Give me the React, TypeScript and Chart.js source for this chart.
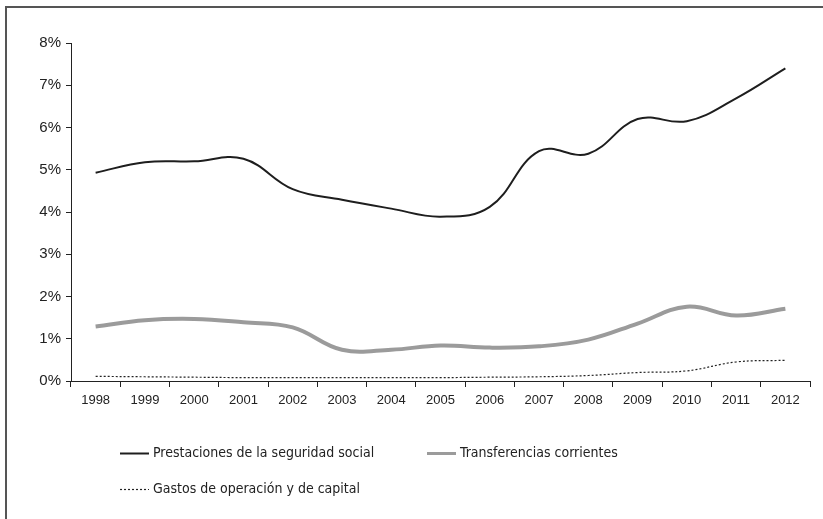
import React, { useEffect, useRef } from "react";
import { Chart, registerables } from "chart.js";

Chart.register(...registerables);

const years = ["1998","1999","2000","2001","2002","2003","2004","2005","2006","2007","2008","2009","2010","2011","2012"];
const prestaciones = [4.93, 5.18, 5.2, 5.26, 4.54, 4.29, 4.08, 3.89, 4.12, 5.44, 5.38, 6.2, 6.15, 6.69, 7.4];
const transferencias = [1.29, 1.44, 1.47, 1.39, 1.27, 0.74, 0.74, 0.84, 0.79, 0.82, 0.98, 1.36, 1.76, 1.55, 1.71];
const gastos = [0.11, 0.1, 0.09, 0.08, 0.08, 0.08, 0.08, 0.08, 0.09, 0.1, 0.13, 0.2, 0.24, 0.45, 0.49];
const seriesNames = ["Prestaciones de la seguridad social", "Transferencias corrientes", "Gastos de operación y de capital"];
const yTicks = [0, 1, 2, 3, 4, 5, 6, 7, 8];

const legendFont = "14px 'Liberation Sans Narrow', 'DejaVu Sans Condensed', sans-serif";

const legendPlugin = {
  id: "customLegend",
  afterDraw(chart: any) {
    const ctx = chart.ctx;
    const items = [
      { x: 120, y: 453, ds: 0, w: 2 },
      { x: 427, y: 453, ds: 1, w: 3 },
      { x: 120, y: 489, ds: 2, w: 1.2 },
    ];
    ctx.save();
    items.forEach((it) => {
      const ds = chart.data.datasets[it.ds];
      ctx.beginPath();
      ctx.strokeStyle = ds.borderColor;
      ctx.lineWidth = it.w;
      ctx.setLineDash(ds.borderDash || []);
      ctx.moveTo(it.x, it.y + 0.5);
      ctx.lineTo(it.x + 29, it.y + 0.5);
      ctx.stroke();
      ctx.setLineDash([]);
      ctx.fillStyle = "#222";
      ctx.font = legendFont;
      ctx.textBaseline = "middle";
      ctx.textAlign = "left";
      ctx.fillText(ds.label, it.x + 33, it.y);
    });
    ctx.restore();
  },
};

export default function App() {
  const ref = useRef<HTMLCanvasElement | null>(null);
  useEffect(() => {
    document.body.style.margin = "0";
    const canvas = ref.current!;
    const chart = new Chart(canvas, {
      type: "line",
      data: {
        labels: years,
        datasets: [
          {
            label: seriesNames[0],
            data: prestaciones,
            borderColor: "#1e1e1e",
            borderWidth: 2,
            pointRadius: 0,
            tension: 0.4,
            fill: false,
          },
          {
            label: seriesNames[1],
            data: transferencias,
            borderColor: "#9b9b9b",
            borderWidth: 4,
            pointRadius: 0,
            tension: 0.4,
            fill: false,
          },
          {
            label: seriesNames[2],
            data: gastos,
            borderColor: "#222",
            borderWidth: 1.2,
            borderDash: [2, 2],
            pointRadius: 0,
            tension: 0.4,
            fill: false,
          },
        ],
      },
      options: {
        animation: false,
        responsive: false,
        maintainAspectRatio: false,
        layout: { padding: { left: 0, right: 13, top: 43, bottom: 108 } },
        plugins: { legend: { display: false }, tooltip: { enabled: false } },
        scales: {
          x: {
            type: "category",
            offset: true,
            grid: {
              display: true,
              drawOnChartArea: false,
              drawTicks: true,
              tickLength: 6,
              offset: true,
              color: "#222",
              lineWidth: 1,
            },
            border: { display: true, color: "#222", width: 1 },
            ticks: {
              color: "#222",
              font: { family: "'Liberation Sans', sans-serif", size: 13 },
              padding: 6,
              maxRotation: 0,
              autoSkip: false,
            },
            afterFit: (s: any) => {
              s.height = 30;
            },
          },
          y: {
            min: 0,
            max: 8,
            grid: {
              display: true,
              drawOnChartArea: false,
              drawTicks: true,
              tickLength: 5,
              color: "#222",
              lineWidth: 1,
            },
            border: { display: true, color: "#222", width: 1 },
            afterBuildTicks: (s: any) => {
              s.ticks = yTicks.map((v) => ({ value: v }));
            },
            ticks: {
              color: "#222",
              font: { family: "'Liberation Sans', sans-serif", size: 15 },
              padding: 5,
              callback: (v: any) => v + "%",
            },
            afterFit: (s: any) => {
              s.width = 71;
            },
          },
        },
      },
      plugins: [legendPlugin],
    });
    return () => chart.destroy();
  }, []);
  return (
    <div style={{ position: "relative", width: 823, height: 519, background: "#fff" }}>
      <canvas ref={ref} width={823} height={519} style={{ position: "absolute", left: 0, top: 0, width: 823, height: 519 }} />
      <div
        style={{
          position: "absolute",
          left: 5,
          top: 6,
          width: 818,
          height: 513,
          borderLeft: "2px solid #555",
          borderTop: "2px solid #555",
          boxSizing: "border-box",
          pointerEvents: "none",
        }}
      />
    </div>
  );
}
